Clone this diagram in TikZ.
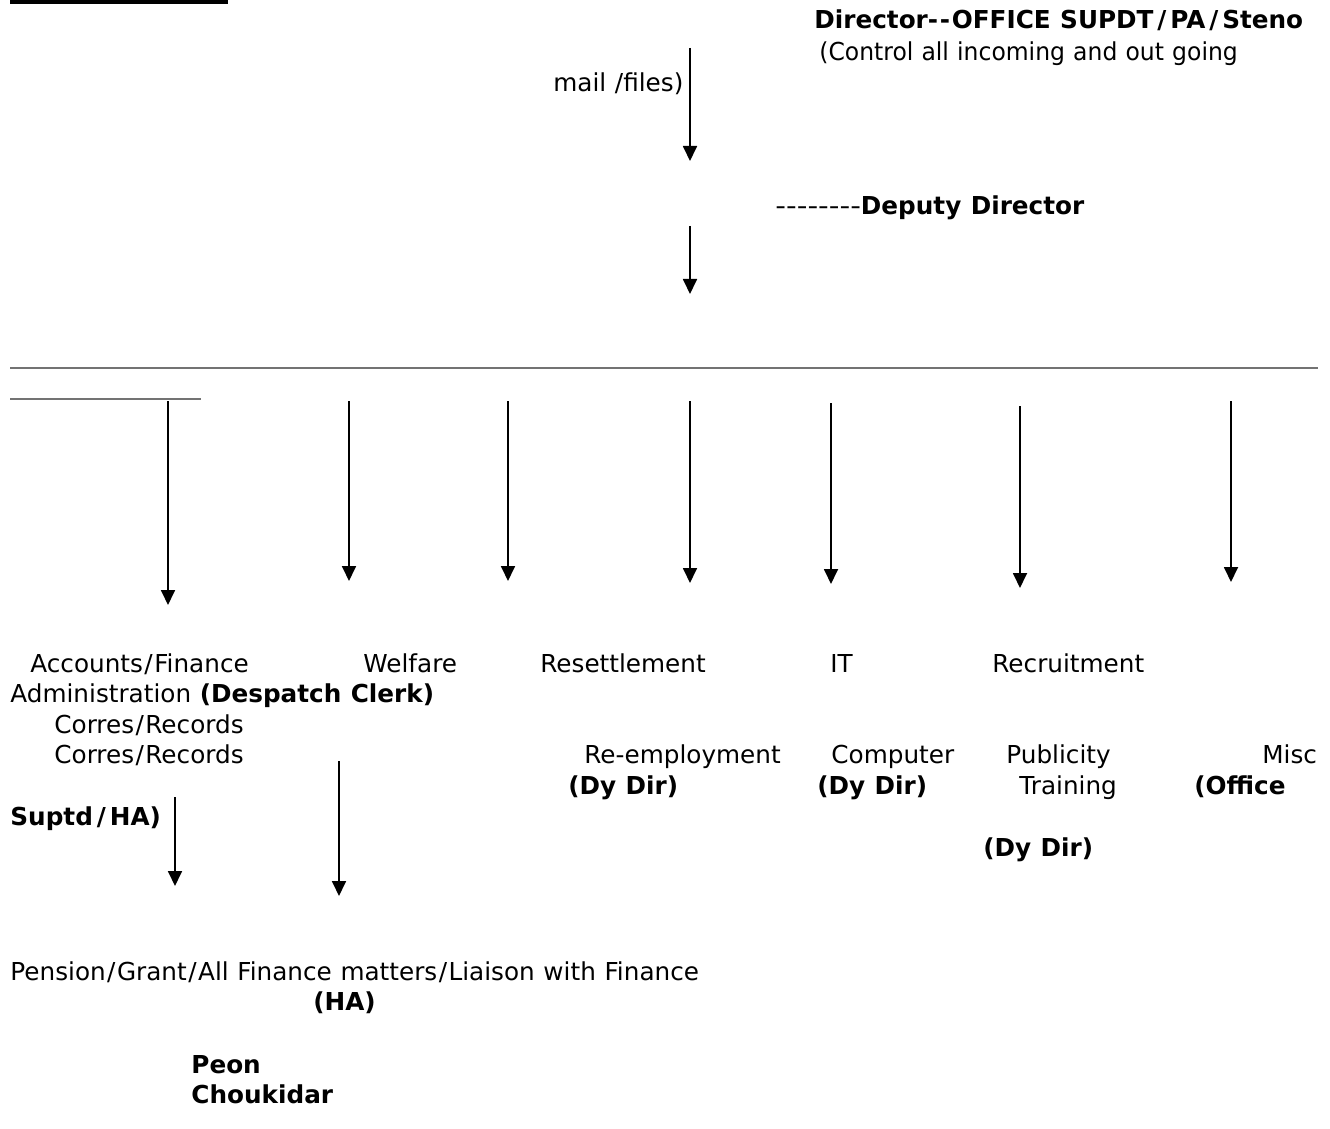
\documentclass[tikz,border=0pt]{standalone}
\usepackage{fontspec}
\newfontfamily\vfont{DejaVu Sans}[WordSpace=1.1]
\usetikzlibrary{arrows.meta}
\newcommand\rsl{\kern0.06em/\kern0.06em}
\newcommand\bsl{\kern0.16em/\kern0.16em}
\begin{document}
\begin{tikzpicture}[x=0.5pt,y=-0.5pt,
  lbl/.style={anchor=base west,inner sep=0pt,font=\vfont\fontsize{12.35}{15}\selectfont},
  blbl/.style={lbl,font=\vfont\bfseries\fontsize{12.35}{15}\selectfont},
  arr/.style={line width=0.9pt,-{Triangle[width=7pt,length=7.5pt]}},
  rule/.style={draw=black!55,line width=0.8pt}]
\useasboundingbox (0,0) rectangle (1330,1129);
% top title underline (cut off)
\fill (10,0) rectangle (228,4);
% header texts
\node[blbl] (dir) at (814,29) {Director-\kern0.07em-\kern0.07em OFFICE SUPDT\bsl PA\bsl Steno};
\node[lbl] (ctl) at (819,61) {\scalebox{0.95}[1]{(Control all incoming and out going}};
\node[lbl] (mail) at (553,92) {mail /files)};
\node[lbl] (dd) at (775,214) {\scalebox{1.2}[1]{--------}\textbf{Deputy Director}};
% header arrows
\coordinate (a1s) at (690,48); \coordinate (a1e) at (690,161);
\coordinate (a2s) at (690,226); \coordinate (a2e) at (690,294);
\draw[arr] (a1s) -- (a1e);
\draw[arr] (a2s) -- (a2e);
% gray lines
\coordinate (r1a) at (10,368); \coordinate (r1b) at (1318,368);
\coordinate (r2a) at (10,399); \coordinate (r2b) at (201,399);
\draw[rule] (r1a) -- (r1b);
\draw[rule] (r2a) -- (r2b);
% branch arrows
\foreach \n/\x/\ya/\yb in {b1/168/401/605, b2/349/401/581, b3/508/401/581, b4/690/401/583, b5/831/403/584, b6/1020/406/588, b7/1231/401/582}{
  \coordinate (\n s) at (\x,\ya); \coordinate (\n e) at (\x,\yb);
  \draw[arr] (\n s) -- (\n e);
}
% department texts
\node[lbl] (acc) at (30,672) {Accounts\rsl Finance};
\node[lbl] (wel) at (363,672) {Welfare};
\node[lbl] (res) at (540,672) {Resettlement};
\node[lbl] (it) at (830,672) {IT};
\node[lbl] (rec) at (992,672) {Recruitment};
\node[lbl] (adm) at (10,702) {Administration \textbf{(Despatch Clerk)}};
\node[lbl] (cor1) at (54,733) {Corres\rsl Records};
\node[lbl] (cor2) at (54,763) {Corres\rsl Records};
\node[lbl] (reemp) at (584,763) {Re-employment};
\node[lbl] (comp) at (831,763) {Computer};
\node[lbl] (pub) at (1006,763) {Publicity};
\node[lbl] (misc) at (1262,763) {Misc};
\node[blbl] (dy1) at (568,794) {(Dy Dir)};
\node[blbl] (dy2) at (817,794) {(Dy Dir)};
\node[lbl] (tr) at (1019,794) {Training};
\node[blbl] (off) at (1194,794) {(Office};
\node[blbl] (sup) at (10,825) {Suptd\bsl HA)};
\node[blbl] (dy3) at (983,856) {(Dy Dir)};
% lower arrows
\coordinate (c1s) at (175,797); \coordinate (c1e) at (175,886);
\coordinate (c2s) at (339,761); \coordinate (c2e) at (339,896);
\draw[arr] (c1s) -- (c1e);
\draw[arr] (c2s) -- (c2e);
% bottom texts
\node[lbl] (pen) at (10,980) {Pension\rsl Grant\rsl All Finance matters\rsl Liaison with Finance};
\node[blbl] (ha) at (313,1010) {(HA)};
\node[blbl] (peon) at (191,1073) {Peon};
\node[blbl] (chk) at (191,1103) {Choukidar};
\end{tikzpicture}
\end{document}
